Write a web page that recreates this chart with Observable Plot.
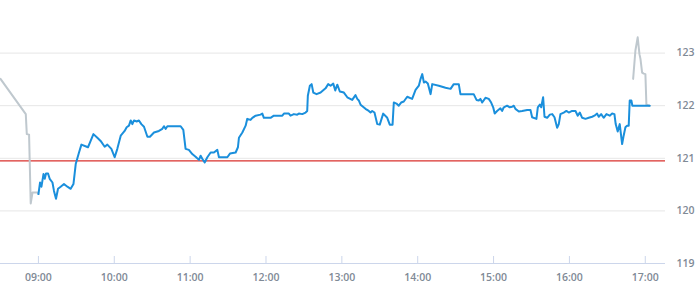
<!DOCTYPE html>
<html>
<head>
<meta charset="utf-8">
<script src="https://cdn.jsdelivr.net/npm/d3@7"></script>
<script src="https://cdn.jsdelivr.net/npm/@observablehq/plot@0.6"></script>
<style>
  html, body { margin: 0; padding: 0; background: #fff; }
  #chart svg { display: block; }
</style>
</head>
<body>
<div id="chart"></div>
<script>
// Minutes after 09:00 and prices
const sessionMinutes = [0,1.3,2.4,4.0,5.0,6.0,7.6,8.9,11.1,12.3,13.9,15.5,17.6,20.2,22.9,25.5,27.7,29.5,32.1,34.0,38.2,39.2,41.3,43.5,46.6,49.2,52.4,54.5,57.7,60.3,62.4,65.1,68.2,69.8,71.6,73.0,74.3,75.6,77.7,79.5,81.4,83.5,86.2,88.2,91.4,95.3,98.0,99.3,100.6,102.0,112.5,114.6,116.4,119.0,121.7,124.3,127.0,128.3,129.6,131.5,133.6,136.2,138.8,141.5,142.8,149.4,151.5,156.0,157.8,158.6,161.3,163.9,165.2,167.8,169.2,171.8,175.7,177.1,178.3,183.6,186.2,192.9,194.2,198.1,199.4,202.1,204.7,206.0,208.7,211.3,212.6,213.1,214.7,216.1,217.4,220.0,223.2,227.1,229.2,231.1,233.2,234.8,236.4,238.4,241.6,244.3,248.2,250.8,252.2,253.4,254.8,258.7,261.3,262.7,264.0,265.8,268.0,270.0,272.7,275.9,277.9,280.1,281.1,283.2,285.0,286.9,289.0,291.7,295.6,298.3,300.9,302.3,303.6,304.9,306.2,308.0,310.2,311.5,316.7,322.0,326.0,328.5,332.5,333.8,344.3,346.5,348.3,349.6,351.0,353.6,356.2,358.1,359.7,360.9,362.8,365.4,366.8,368.1,370.7,372.8,374.7,376.0,377.3,380.0,382.6,386.6,389.2,390.5,393.9,395.0,396.6,397.7,399.2,400.3,402.4,404.5,406.4,408.2,410.3,411.6,412.9,415.5,417.6,419.5,422.1,424.8,426.6,428.2,430.1,432.7,435.3,438.0,439.8,441.9,443.2,445.1,447.1,449.3,451.9,453.8,455.6,456.6,458.2,459.8,461.7,462.9,464.3,465.6,466.9,467.7,469.0,469.8,483.5];
const sessionPrices = [120.32,120.54,120.46,120.70,120.61,120.71,120.71,120.61,120.54,120.38,120.23,120.42,120.46,120.51,120.46,120.42,120.51,120.89,121.11,121.26,121.22,121.21,121.33,121.46,121.39,121.33,121.22,121.26,121.18,121.02,121.18,121.43,121.52,121.59,121.62,121.72,121.65,121.72,121.70,121.72,121.65,121.60,121.41,121.41,121.49,121.52,121.56,121.61,121.56,121.61,121.61,121.54,121.18,121.16,121.08,121.03,120.97,121.05,120.99,120.92,121.02,121.11,121.11,121.16,121.02,121.02,121.09,121.11,121.21,121.39,121.49,121.62,121.75,121.73,121.77,121.81,121.83,121.85,121.77,121.77,121.81,121.81,121.85,121.85,121.81,121.84,121.83,121.85,121.84,121.87,121.90,122.19,122.38,122.41,122.25,122.22,122.25,122.33,122.41,122.38,122.42,122.29,122.40,122.27,122.25,122.16,122.11,122.20,122.13,122.10,122.02,121.94,121.90,121.87,121.90,121.87,121.65,121.64,121.85,121.77,121.64,121.64,122.06,122.04,122.00,122.06,122.08,122.17,122.13,122.30,122.38,122.51,122.60,122.44,122.46,122.42,122.22,122.41,122.38,122.34,122.32,122.41,122.41,122.22,122.22,122.11,122.10,122.13,122.06,122.15,122.13,122.06,121.97,121.85,121.90,121.95,121.90,121.97,122.00,121.97,121.98,122.00,121.94,121.89,121.90,121.92,121.92,121.78,121.75,121.97,122.02,121.97,122.16,121.79,121.77,121.83,121.84,121.78,121.58,121.65,121.84,121.87,121.90,121.87,121.90,121.90,121.81,121.87,121.77,121.75,121.77,121.79,121.81,121.85,121.79,121.84,121.77,121.84,121.81,121.85,121.84,121.65,121.51,121.65,121.27,121.43,121.59,121.62,121.62,122.10,122.10,122.00,122.00];

const preMinutes = [-30,-10.0,-9.2,-7.4,-6.1,-4.7,-0.8,0];
const prePrices = [122.51,121.84,121.46,121.45,120.14,120.35,120.35,120.32];

const postMinutes = [470.4,472.2,474.0,475.4,476.2,477.5,478.8,480.1,480.9,483.5];
const postPrices = [122.51,123.05,123.30,122.98,122.89,122.63,122.61,122.60,122.02,122.00];

const referenceLevel = 120.95;
const yTicks = [119,120,121,122,123];
const gridLevels = [120,121,122,123];
const hourTicks = ["09:00","10:00","11:00","12:00","13:00","14:00","15:00","16:00","17:00"];
const domainStart = "08:30";
const domainEndMinutes = 496;

const base = Date.UTC(2024, 0, 2, 9, 0);
const toDate = m => new Date(base + m * 60000);
const parseClock = s => { const [h, mm] = s.split(":").map(Number); return new Date(Date.UTC(2024,0,2,h,mm)); };
const rows = (ms, ps) => ms.map((m, i) => ({t: toDate(m), v: ps[i]}));

const session = rows(sessionMinutes, sessionPrices);
const pre = rows(preMinutes, prePrices);
const post = rows(postMinutes, postPrices);
const hours = hourTicks.map(parseClock);

const font = "'Open Sans', 'DejaVu Sans', sans-serif";

const chart = Plot.plot({
  width: 695,
  height: 300,
  marginTop: 0,
  marginLeft: 0,
  marginRight: 30,
  marginBottom: 37,
  style: {fontFamily: font, fontSize: "10.5px", color: "#7f8a96", background: "#fff", overflow: "visible"},
  x: {type: "utc", domain: [parseClock(domainStart), toDate(domainEndMinutes)], label: null},
  y: {domain: [119, 124], label: null},
  marks: [
    Plot.ruleY(gridLevels, {stroke: "#e6e6e6", strokeWidth: 1}),
    Plot.ruleY([119], {stroke: "#ccd6eb", strokeWidth: 1}),
    Plot.ruleX(hours, {stroke: "#ccd6eb", strokeWidth: 1, insetTop: 256}),
    Plot.ruleY([referenceLevel], {stroke: "#d9302c", strokeWidth: 1.2}),
    Plot.line(pre, {x: "t", y: "v", stroke: "#bfc8ce", strokeWidth: 2}),
    Plot.line(post, {x: "t", y: "v", stroke: "#bfc8ce", strokeWidth: 2}),
    Plot.line(session, {x: "t", y: "v", stroke: "#1a8fdc", strokeWidth: 2, curve: "linear"}),
    Plot.axisX({ticks: hours, tickFormat: d3.utcFormat("%H:%M"), tickSize: 0, tickPadding: 10, fill: "#7f8a96", fontWeight: 600, label: null}),
    Plot.axisY({anchor: "right", ticks: yTicks, tickFormat: d3.format("d"), tickSize: 0, tickPadding: 11, textAnchor: "start", fill: "#7f8a96", fontWeight: 600, label: null})
  ]
});
document.getElementById("chart").appendChild(chart);
</script>
</body>
</html>
